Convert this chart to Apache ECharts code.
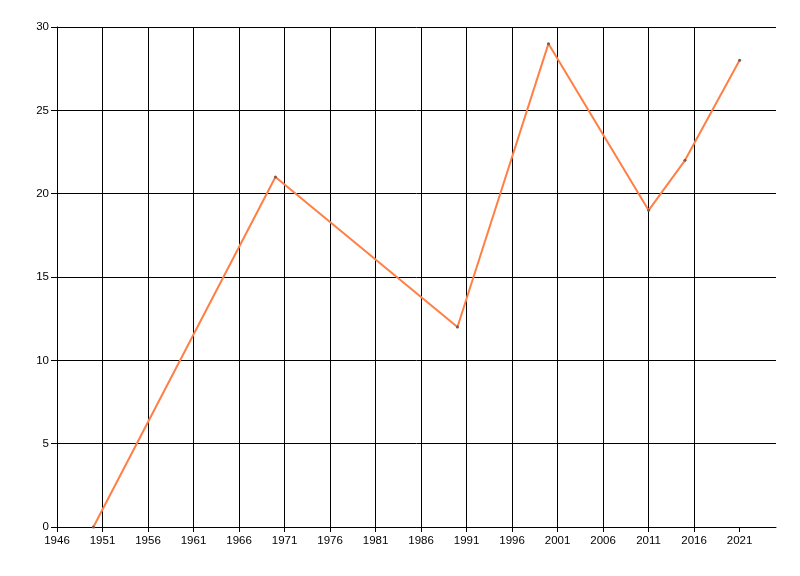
<!DOCTYPE html>
<html>
<head>
<meta charset="utf-8">
<script src="https://cdn.jsdelivr.net/npm/echarts@6/dist/echarts.min.js"></script>
<style>html,body{margin:0;padding:0;background:#fff;}#c{width:800px;height:576px;}</style>
</head>
<body>
<div id="c"></div>
<script>
var years = [1950, 1970, 1990, 2000, 2011, 2015, 2021];
var values = [0, 21, 12, 29, 19, 22, 28];
var xTicks = [1946, 1951, 1956, 1961, 1966, 1971, 1976, 1981, 1986, 1991, 1996, 2001, 2006, 2011, 2016, 2021];
var xMin = 1946, xMax = 2025, xStep = 5;
var yMin = 0, yMax = 30, yStep = 5;

var chart = echarts.init(document.getElementById('c'), null, {renderer: 'canvas'});
var font = 'Liberation Sans';
chart.setOption({
  animation: false,
  backgroundColor: '#ffffff',
  grid: {left: 57, right: 24, top: 27, bottom: 49, containLabel: false},
  xAxis: {
    type: 'value', min: xMin, max: xMax, interval: xStep,
    axisLine: {show: true, lineStyle: {color: '#000', width: 1}},
    axisTick: {show: true, length: 5, customValues: xTicks, lineStyle: {color: '#000'}},
    axisLabel: {color: '#000', fontFamily: font, fontSize: 11.5, margin: 8, customValues: xTicks,
      formatter: function (v) { return String(v); }},
    splitLine: {show: true, showMaxLine: false, lineStyle: {color: '#000', width: 1}}
  },
  yAxis: {
    type: 'value', min: yMin, max: yMax, interval: yStep,
    axisLine: {show: true, lineStyle: {color: '#000', width: 1}},
    axisTick: {show: true, length: 6, lineStyle: {color: '#000'}},
    axisLabel: {color: '#000', fontFamily: font, fontSize: 11.5, margin: 8},
    splitLine: {show: true, lineStyle: {color: '#000', width: 1}}
  },
  series: [{
    type: 'line',
    data: years.map(function (y, i) { return [y, values[i]]; }),
    lineStyle: {color: '#FF7F45', width: 2},
    itemStyle: {color: '#7a5a50'},
    symbol: 'circle', symbolSize: 3, showSymbol: true
  }]
});
</script>
</body>
</html>
